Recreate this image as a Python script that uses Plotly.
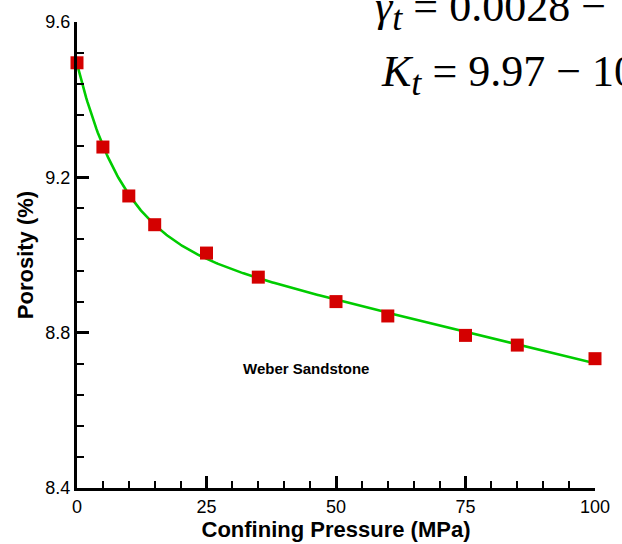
import numpy as np
import plotly.graph_objects as go

# Confining pressure (MPa) and measured porosity (%) for Weber Sandstone
pressure = [0, 5, 10, 15, 25, 35, 50, 60, 75, 85, 100]
porosity = [9.495, 9.278, 9.152, 9.078, 9.005, 8.943, 8.880, 8.843, 8.793, 8.768, 8.733]

x_ticks = [0, 25, 50, 75, 100]
y_ticks = [8.4, 8.8, 9.2, 9.6]

# Fitted trend: phi = a + b*exp(-p/c) + d*p, linear least squares for a, b, d
# with the decay constant c chosen by a coarse search.
p = np.array(pressure, dtype=float)
phi = np.array(porosity, dtype=float)
best = None
for c in np.arange(4.0, 30.0, 0.25):
    A = np.column_stack([np.ones_like(p), np.exp(-p / c), p])
    coef, *_ = np.linalg.lstsq(A, phi, rcond=None)
    err = np.sum((A @ coef - phi) ** 2)
    if best is None or err < best[0]:
        best = (err, c, coef)
_, c_fit, (a_fit, b_fit, d_fit) = best
p_curve = np.linspace(0, 100, 401)
phi_curve = a_fit + b_fit * np.exp(-p_curve / c_fit) + d_fit * p_curve

fig = go.Figure()
fig.add_trace(go.Scatter(
    x=p_curve, y=phi_curve, mode="lines",
    line=dict(color="#00cc00", width=2.6),
    hoverinfo="skip", showlegend=False,
))
fig.add_trace(go.Scatter(
    x=pressure, y=porosity, mode="markers",
    marker=dict(symbol="square", size=13, color="#d40000", line=dict(width=0)),
    cliponaxis=False, showlegend=False,
))

tick_font = dict(family="Liberation Sans, Arial, sans-serif", size=18, color="black")
title_font = dict(family="Liberation Sans, Arial, sans-serif", size=22, color="black")
eq_font = dict(family="Liberation Serif, Times New Roman, serif", size=44, color="black")

W, H = 622, 544
ml, mr, mt, mb = 77, 17, 18, 46
pw, ph = W - ml - mr, H - mt - mb


def paper_x(px):
    return (px - ml) / pw


def paper_y(py):
    return (H - mb - py) / ph


fig.update_layout(
    width=W, height=H,
    margin=dict(l=ml, r=mr, t=mt, b=mb),
    paper_bgcolor="white", plot_bgcolor="white",
    xaxis=dict(
        range=[0, 100], tickvals=x_ticks, ticktext=[str(v) for v in x_ticks],
        showgrid=False, zeroline=False,
        showline=True, linecolor="black", linewidth=3,
        ticks="inside", ticklen=12, tickwidth=2.5, tickcolor="black",
        minor=dict(dtick=5, ticks="inside", ticklen=7, tickwidth=1.5, tickcolor="black"),
        tickfont=tick_font,
        title=dict(text="<b>Confining Pressure (MPa)</b>", font=title_font, standoff=0),
    ),
    yaxis=dict(
        range=[8.4, 9.6], tickvals=y_ticks, ticktext=[f"{v:.1f}" for v in y_ticks],
        showgrid=False, zeroline=False,
        showline=True, linecolor="black", linewidth=3,
        ticks="inside", ticklen=12, tickwidth=2.5, tickcolor="black",
        minor=dict(dtick=0.08, tick0=8.4, ticks="inside", ticklen=7, tickwidth=1.5, tickcolor="black"),
        tickfont=tick_font,
        title=dict(text="<b>Porosity (%)</b>", font=title_font, standoff=6),
    ),
    annotations=[
        dict(
            text="<b>Weber Sandstone</b>", x=44.3, y=8.707, xref="x", yref="y",
            showarrow=False, font=dict(family="Liberation Sans, Arial, sans-serif", size=15, color="black"),
        ),
        dict(
            text="<i>γ</i><sub><span style='font-size:36px'><i>t</i></span></sub> = 0.0028 −",
            x=paper_x(379), y=paper_y(37), xref="paper", yref="paper",
            showarrow=False, xanchor="left", yanchor="bottom", font=eq_font,
        ),
        dict(
            text="<i>K</i><sub><span style='font-size:36px'><i>t</i></span></sub> = 9.97 − 10",
            x=paper_x(385), y=paper_y(104), xref="paper", yref="paper",
            showarrow=False, xanchor="left", yanchor="bottom", font=eq_font,
        ),
    ],
)

fig.write_html("out.html")
